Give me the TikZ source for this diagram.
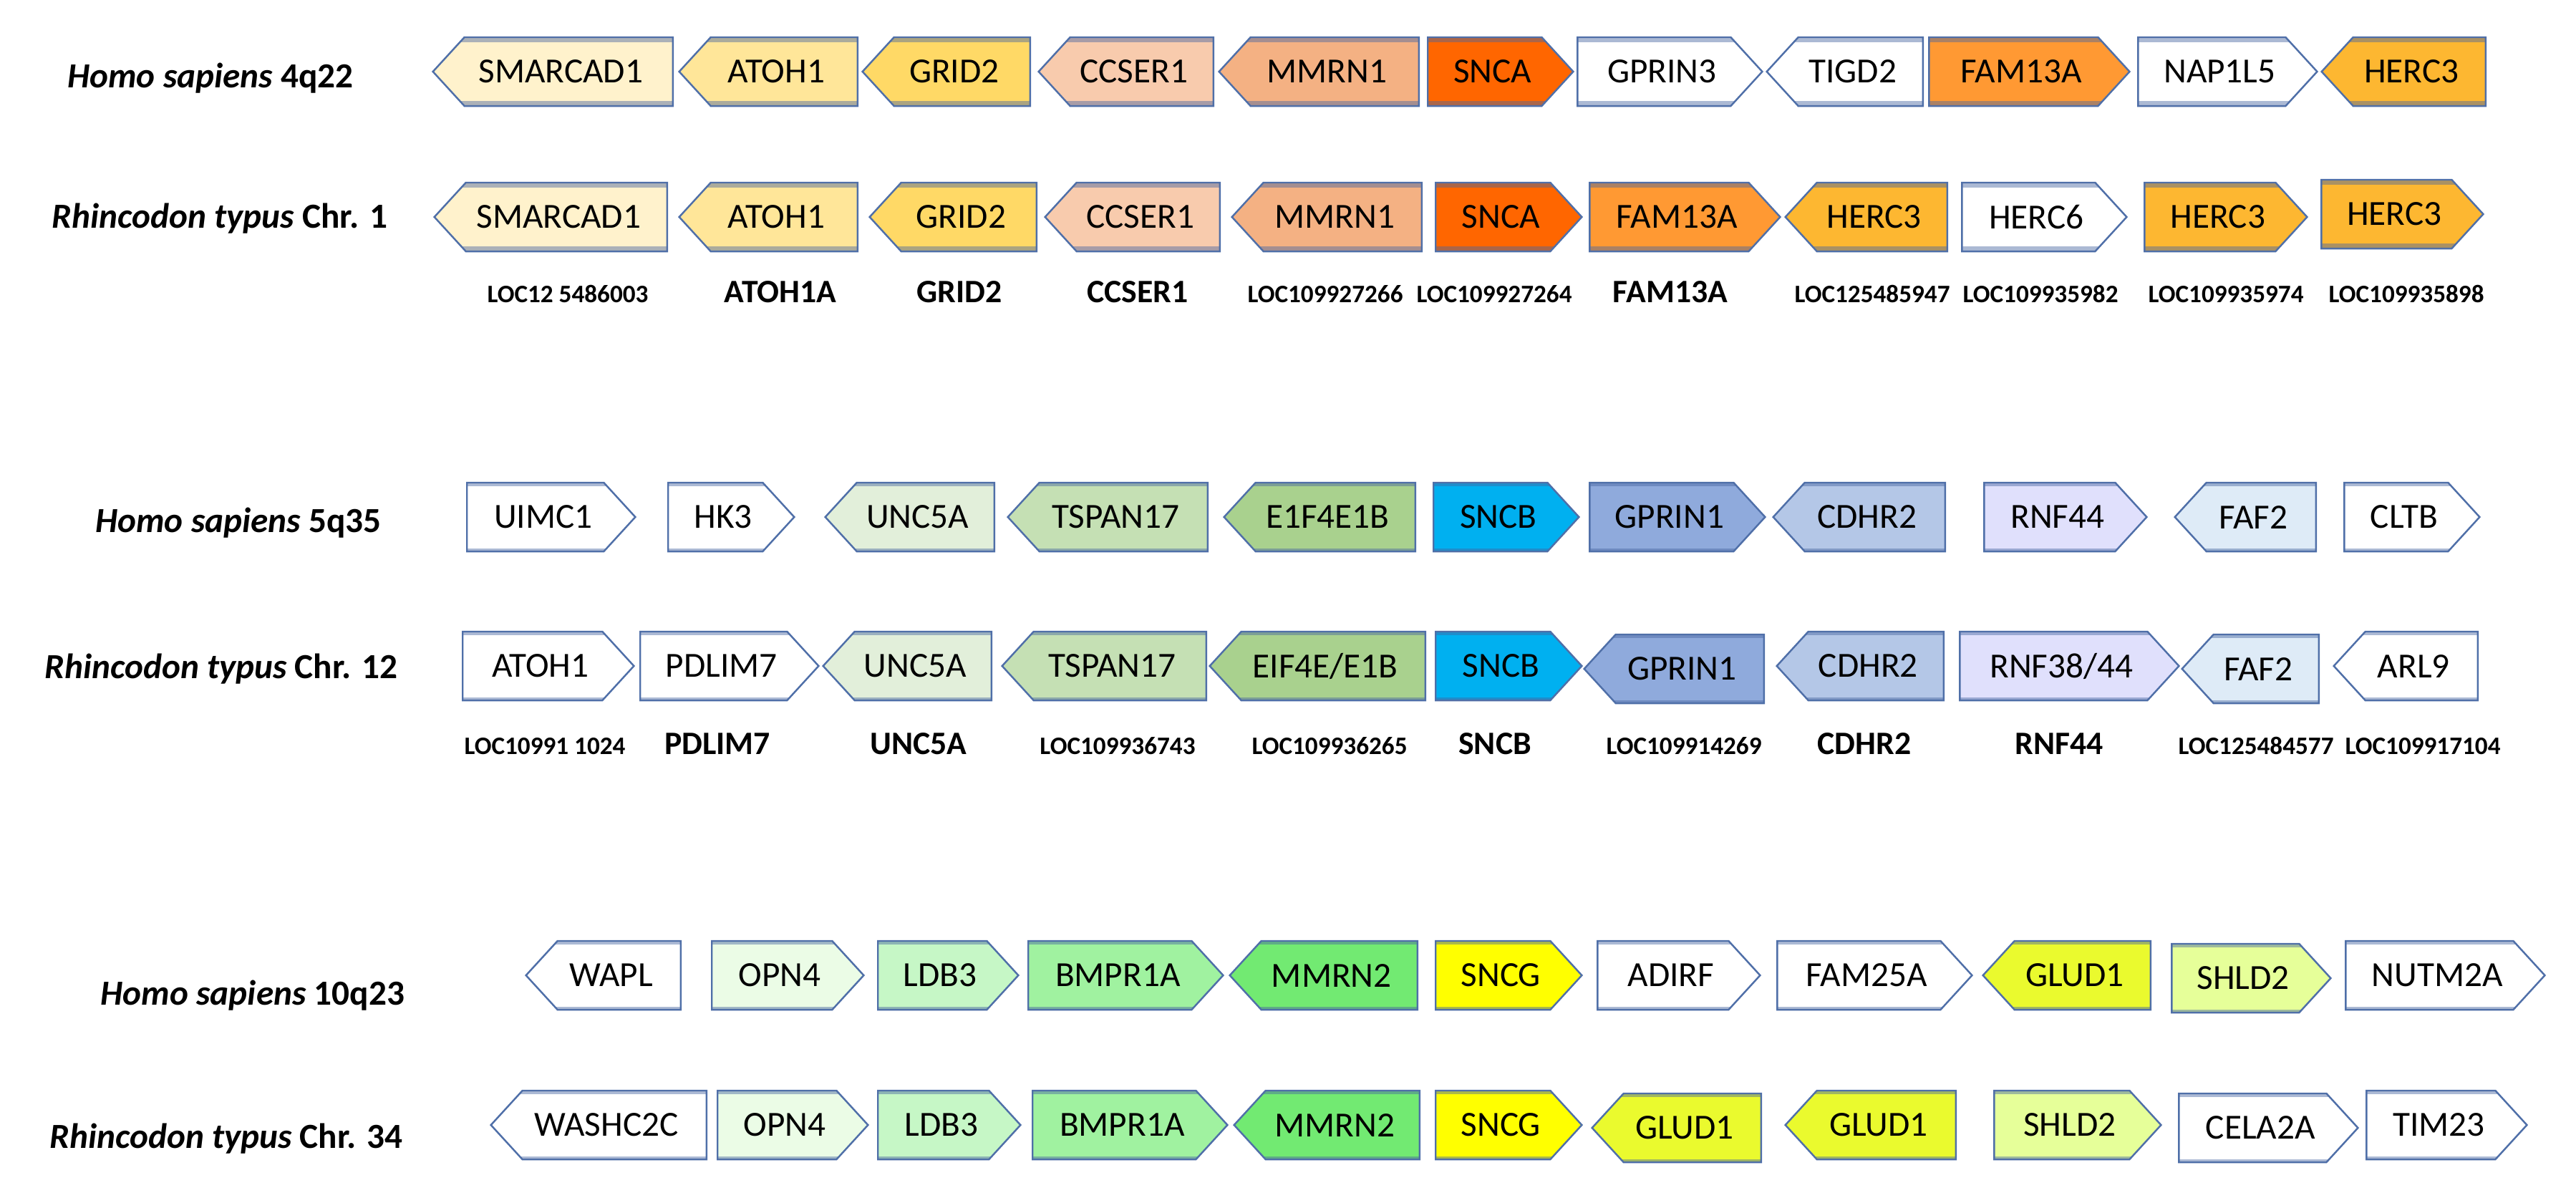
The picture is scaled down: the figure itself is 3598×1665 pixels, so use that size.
\documentclass[tikz,border=0pt]{standalone}
\usepackage{fontspec}
\setmainfont{Carlito}
\usetikzlibrary{shapes.symbols}
\definecolor{genebd}{RGB}{79,111,168}
\definecolor{bandc}{RGB}{70,100,160}
\definecolor{colSMARCAD}{HTML}{FFF2CC}
\definecolor{colATOH}{HTML}{FFE699}
\definecolor{colGRID}{HTML}{FFD966}
\definecolor{colCCSER}{HTML}{F8CBAD}
\definecolor{colMMRNa}{HTML}{F4B183}
\definecolor{colSNCA}{HTML}{FF6600}
\definecolor{colFAM}{HTML}{FF9933}
\definecolor{colHERC}{HTML}{FDB731}
\definecolor{colUNC}{HTML}{E2EFDA}
\definecolor{colTSPAN}{HTML}{C5E0B4}
\definecolor{colEIF}{HTML}{A9D18E}
\definecolor{colSNCB}{HTML}{00B0F0}
\definecolor{colGPRIN}{HTML}{8FAADC}
\definecolor{colCDHR}{HTML}{B4C7E7}
\definecolor{colRNF}{HTML}{E0E0FC}
\definecolor{colFAF}{HTML}{DEEBF7}
\definecolor{colOPN}{HTML}{EBFCE6}
\definecolor{colLDB}{HTML}{C6F7C6}
\definecolor{colBMPR}{HTML}{A0F2A0}
\definecolor{colMMRNb}{HTML}{72EA72}
\definecolor{colSNCG}{HTML}{FFFF00}
\definecolor{colGLUD}{HTML}{EAFA2E}
\definecolor{colSHLD}{HTML}{E6FF99}
\begin{document}
\begin{tikzpicture}[x=0.01cm, y=-0.01cm,
    gene/.style={signal, signal from=nowhere, draw=genebd, line width=0.7pt,
        minimum height=0.96cm, inner xsep=2pt, inner ysep=0pt,
        signal pointer angle=95, anchor=west, font=\fontsize{14}{16}\selectfont,
        path picture={
            \fill[bandc, opacity=0.45] (path picture bounding box.north west) rectangle ([yshift=-#1]path picture bounding box.north east);
            \fill[bandc, opacity=0.45] (path picture bounding box.south west) rectangle ([yshift=#1]path picture bounding box.south east);
        }},
    fwd/.style={gene=#1, signal to=east, execute at begin node={\hspace*{0.22cm}}},
    rev/.style={gene=#1, signal to=west, execute at end node={\hspace*{0.22cm}}},
    species/.style={anchor=base, inner sep=0pt, font=\bfseries\fontsize{14}{16}\selectfont},
    loc/.style={anchor=base, inner sep=0pt, font=\bfseries\fontsize{10}{12}\selectfont},
    sym/.style={anchor=base, inner sep=0pt, font=\bfseries\fontsize{13}{15}\selectfont}]
    \useasboundingbox (0,0) rectangle (3598,1665);

    \draw (294,122) node[species](hs4){\textit{Homo sapiens} 4q22};
    \draw (603,100) node[rev=.07cm, fill=colSMARCAD, minimum width=3.35cm](h4smarcad){SMARCAD1};
    \draw (947,100) node[rev=.07cm, fill=colATOH, minimum width=2.49cm](h4atoh){ATOH1};
    \draw (1203,100) node[rev=.07cm, fill=colGRID, minimum width=2.34cm](h4grid){GRID2};
    \draw (1449,100) node[rev=.07cm, fill=colCCSER, minimum width=2.44cm](h4ccser){CCSER1};
    \draw (1701,100) node[rev=.07cm, fill=colMMRNa, minimum width=2.79cm](h4mmrn){MMRN1};
    \draw (1993,100) node[fwd=.07cm, fill=colSNCA, minimum width=2.03cm](h4snca){SNCA};
    \draw (2202,100) node[fwd=.07cm, fill=white, minimum width=2.58cm](h4gprin){GPRIN3};
    \draw (2466,100) node[rev=.07cm, fill=white, minimum width=2.18cm](h4tigd){TIGD2};
    \draw (2693,100) node[fwd=.07cm, fill=colFAM, minimum width=2.80cm](h4fam){FAM13A};
    \draw (2985,100) node[fwd=.07cm, fill=white, minimum width=2.50cm](h4nap){NAP1L5};
    \draw (3241,100) node[rev=.07cm, fill=colHERC, minimum width=2.29cm](h4herc){HERC3};

    \draw (307,318) node[species](rt1){\textit{Rhincodon typus} Chr. 1};
    \draw (605,303) node[rev=.07cm, fill=colSMARCAD, minimum width=3.25cm](r1smarcad){SMARCAD1};
    \draw (947,303) node[rev=.07cm, fill=colATOH, minimum width=2.49cm](r1atoh){ATOH1};
    \draw (1213,303) node[rev=.07cm, fill=colGRID, minimum width=2.33cm](r1grid){GRID2};
    \draw (1458,303) node[rev=.07cm, fill=colCCSER, minimum width=2.44cm](r1ccser){CCSER1};
    \draw (1719,303) node[rev=.07cm, fill=colMMRNa, minimum width=2.65cm](r1mmrn){MMRN1};
    \draw (2004,303) node[fwd=.07cm, fill=colSNCA, minimum width=2.04cm](r1snca){SNCA};
    \draw (2219,303) node[fwd=.07cm, fill=colFAM, minimum width=2.66cm](r1fam){FAM13A};
    \draw (2492,303) node[rev=.07cm, fill=colHERC, minimum width=2.26cm](r1herca){HERC3};
    \draw (2739,303) node[fwd=.07cm, fill=white, minimum width=2.30cm](r1herc6){HERC6};
    \draw (2994,303) node[fwd=.07cm, fill=colHERC, minimum width=2.27cm](r1hercb){HERC3};
    \draw (3241,299) node[fwd=.07cm, fill=colHERC, minimum width=2.26cm](r1hercc){HERC3};

    \draw (793,422) node[loc](l1smarcad){LOC12 5486003};
    \draw (1090,422) node[sym](l1atoh){ATOH1A};
    \draw (1340,422) node[sym](l1grid){GRID2};
    \draw (1589,422) node[sym](l1ccser){CCSER1};
    \draw (1851,422) node[loc](l1mmrn){LOC109927266};
    \draw (2087,422) node[loc](l1snca){LOC109927264};
    \draw (2333,422) node[sym](l1fam){FAM13A};
    \draw (2615,422) node[loc](l1herca){LOC125485947};
    \draw (2850,422) node[loc](l1herc6){LOC109935982};
    \draw (3109,422) node[loc](l1hercb){LOC109935974};
    \draw (3361,422) node[loc](l1hercc){LOC109935898};

    \draw (333,743) node[species](hs5){\textit{Homo sapiens} 5q35};
    \draw (651,722) node[fwd=.045cm, fill=white, minimum width=2.35cm](h5uimc){UIMC1};
    \draw (932,722) node[fwd=.045cm, fill=white, minimum width=1.76cm](h5hk){HK3};
    \draw (1151,722) node[rev=.045cm, fill=colUNC, minimum width=2.36cm](h5unc){UNC5A};
    \draw (1406,722) node[rev=.045cm, fill=colTSPAN, minimum width=2.79cm](h5tspan){TSPAN17};
    \draw (1708,722) node[rev=.045cm, fill=colEIF, minimum width=2.67cm](h5eif){E1F4E1B};
    \draw (2001,722) node[fwd=.045cm, fill=colSNCB, minimum width=2.03cm](h5sncb){SNCB};
    \draw (2219,722) node[fwd=.045cm, fill=colGPRIN, minimum width=2.45cm](h5gprin){GPRIN1};
    \draw (2475,722) node[rev=.045cm, fill=colCDHR, minimum width=2.40cm](h5cdhr){CDHR2};
    \draw (2770,722) node[fwd=.045cm, fill=colRNF, minimum width=2.27cm](h5rnf){RNF44};
    \draw (3036,722) node[rev=.045cm, fill=colFAF, minimum width=1.97cm](h5faf){FAF2};
    \draw (3273,722) node[fwd=.045cm, fill=white, minimum width=1.89cm](h5cltb){CLTB};

    \draw (309,947) node[species](rt12){\textit{Rhincodon typus} Chr. 12};
    \draw (645,930) node[fwd=.045cm, fill=white, minimum width=2.39cm](r12atoh){ATOH1};
    \draw (893,930) node[fwd=.045cm, fill=white, minimum width=2.49cm](r12pdlim){PDLIM7};
    \draw (1148,930) node[rev=.045cm, fill=colUNC, minimum width=2.35cm](r12unc){UNC5A};
    \draw (1398,930) node[rev=.045cm, fill=colTSPAN, minimum width=2.85cm](r12tspan){TSPAN17};
    \draw (1688,930) node[rev=.045cm, fill=colEIF, minimum width=3.01cm](r12eif){EIF4E/E1B};
    \draw (2004,930) node[fwd=.045cm, fill=colSNCB, minimum width=2.04cm](r12sncb){SNCB};
    \draw (2211,934) node[rev=.045cm, fill=colGPRIN, minimum width=2.51cm](r12gprin){GPRIN1};
    \draw (2480,930) node[rev=.045cm, fill=colCDHR, minimum width=2.33cm](r12cdhr){CDHR2};
    \draw (2736,930) node[fwd=.045cm, fill=colRNF, minimum width=3.06cm](r12rnf){RNF38/44};
    \draw (3046,934) node[rev=.045cm, fill=colFAF, minimum width=1.91cm](r12faf){FAF2};
    \draw (3258,930) node[rev=.045cm, fill=white, minimum width=2.01cm](r12arl){ARL9};

    \draw (761,1053) node[loc](l12atoh){LOC10991 1024};
    \draw (1002,1053) node[sym](l12pdlim){PDLIM7};
    \draw (1283,1053) node[sym](l12unc){UNC5A};
    \draw (1561,1053) node[loc](l12tspan){LOC109936743};
    \draw (1857,1053) node[loc](l12eif){LOC109936265};
    \draw (2088,1053) node[sym](l12sncb){SNCB};
    \draw (2352,1053) node[loc](l12gprin){LOC109914269};
    \draw (2604,1053) node[sym](l12cdhr){CDHR2};
    \draw (2876,1053) node[sym](l12rnf){RNF44};
    \draw (3151,1053) node[loc](l12faf){LOC125484577};
    \draw (3384,1053) node[loc](l12arl){LOC109917104};

    \draw (353,1403) node[species](hs10){\textit{Homo sapiens} 10q23};
    \draw (733,1362) node[rev=.045cm, fill=white, minimum width=2.16cm](h10wapl){WAPL};
    \draw (993,1362) node[fwd=.045cm, fill=colOPN, minimum width=2.12cm](h10opn){OPN4};
    \draw (1225,1362) node[fwd=.045cm, fill=colLDB, minimum width=1.96cm](h10ldb){LDB3};
    \draw (1435,1362) node[fwd=.045cm, fill=colBMPR, minimum width=2.72cm](h10bmpr){BMPR1A};
    \draw (1716,1362) node[rev=.045cm, fill=colMMRNb, minimum width=2.62cm](h10mmrn){MMRN2};
    \draw (2004,1362) node[fwd=.045cm, fill=colSNCG, minimum width=2.04cm](h10sncg){SNCG};
    \draw (2230,1362) node[fwd=.045cm, fill=white, minimum width=2.27cm](h10adirf){ADIRF};
    \draw (2481,1362) node[fwd=.045cm, fill=white, minimum width=2.72cm](h10fam){FAM25A};
    \draw (2768,1362) node[rev=.045cm, fill=colGLUD, minimum width=2.34cm](h10glud){GLUD1};
    \draw (3032,1366) node[fwd=.045cm, fill=colSHLD, minimum width=2.22cm](h10shld){SHLD2};
    \draw (3275,1362) node[fwd=.045cm, fill=white, minimum width=2.78cm](h10nutm){NUTM2A};

    \draw (316,1603) node[species](rt34){\textit{Rhincodon typus} Chr. 34};
    \draw (684,1571) node[rev=.045cm, fill=white, minimum width=3.01cm](r34washc){WASHC2C};
    \draw (1001,1571) node[fwd=.045cm, fill=colOPN, minimum width=2.10cm](r34opn){OPN4};
    \draw (1225,1571) node[fwd=.045cm, fill=colLDB, minimum width=1.99cm](r34ldb){LDB3};
    \draw (1441,1571) node[fwd=.045cm, fill=colBMPR, minimum width=2.72cm](r34bmpr){BMPR1A};
    \draw (1722,1571) node[rev=.045cm, fill=colMMRNb, minimum width=2.59cm](r34mmrn){MMRN2};
    \draw (2004,1571) node[fwd=.045cm, fill=colSNCG, minimum width=2.04cm](r34sncg){SNCG};
    \draw (2222,1575) node[rev=.045cm, fill=colGLUD, minimum width=2.36cm](r34gluda){GLUD1};
    \draw (2492,1571) node[rev=.045cm, fill=colGLUD, minimum width=2.38cm](r34gludb){GLUD1};
    \draw (2784,1571) node[fwd=.045cm, fill=colSHLD, minimum width=2.33cm](r34shld){SHLD2};
    \draw (3042,1575) node[fwd=.045cm, fill=white, minimum width=2.50cm](r34cela){CELA2A};
    \draw (3304,1571) node[fwd=.045cm, fill=white, minimum width=2.24cm](r34tim){TIM23};
\end{tikzpicture}
\end{document}
